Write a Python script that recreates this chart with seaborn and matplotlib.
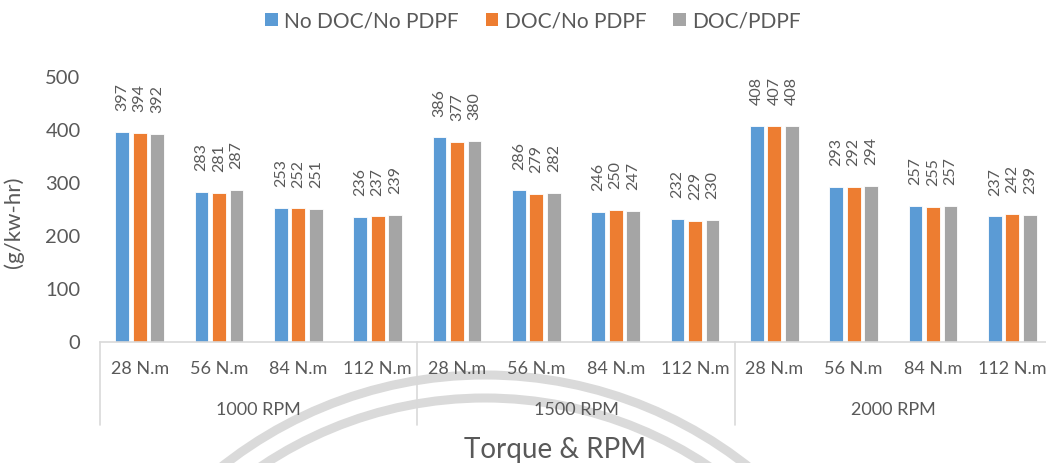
import numpy as np
import pandas as pd
import matplotlib
matplotlib.use('Agg')
import matplotlib.pyplot as plt
from matplotlib.patches import Patch, Arc
import seaborn as sns

# data
rpm_groups = ['1000 RPM', '1500 RPM', '2000 RPM']
torques = ['28 N.m', '56 N.m', '84 N.m', '112 N.m']
series = ['No DOC/No PDPF', 'DOC/No PDPF', 'DOC/PDPF']
no_doc_no_pdpf = [397, 283, 253, 236, 386, 286, 246, 232, 408, 293, 257, 237]
doc_no_pdpf = [394, 281, 252, 237, 377, 279, 250, 229, 407, 292, 255, 242]
doc_pdpf = [392, 287, 251, 239, 380, 282, 247, 230, 408, 294, 257, 239]
colors = ['#5B9BD5', '#ED7D31', '#A5A5A5']

sns.set_theme(style='white')
plt.rcParams['font.family'] = ['Lato', 'DejaVu Sans']
txt = '#595959'

cats = [f'{r}|{t}' for r in rpm_groups for t in torques]
df = pd.DataFrame({
    'cat': cats * 3,
    'series': np.repeat(series, len(cats)),
    'val': no_doc_no_pdpf + doc_no_pdpf + doc_pdpf,
})

fig = plt.figure(figsize=(10.46, 4.63), dpi=100)

# faint watermark from the scanned page
bg = fig.add_axes([0, 0, 1, 1], zorder=-1)
bg.set_xlim(0, 1046)
bg.set_ylim(463, 0)
bg.axis('off')
for r in (424, 401):
    bg.add_patch(Arc((485, 799), 2 * r, 2 * r, theta1=180, theta2=360,
                     color='#dadada', lw=6.5))

W, H = 1046, 463
ax = fig.add_axes([100 / W, (H - 342) / H, 952 / W, 265 / H], zorder=1)
ax.set_facecolor('none')

sns.barplot(data=df, x='cat', y='val', hue='series', order=cats,
            hue_order=series, palette=colors, saturation=1, width=0.666,
            gap=0.22, edgecolor='white', linewidth=0.6, legend=False, ax=ax)

for cont in ax.containers:
    ax.bar_label(cont, rotation=90, padding=15, fontsize=11.5, color=txt)

ax.set_ylim(0, 500)
ax.set_xlim(-0.5, 11.5)
ax.set_yticks(range(0, 501, 100))
ax.set_xticks(range(len(cats)))
ax.set_xticklabels(torques * 3)
ax.tick_params(axis='x', length=0, pad=14, labelsize=13, labelcolor=txt)
ax.tick_params(axis='y', length=0, pad=14, labelsize=14.5, labelcolor=txt)
ax.set_xlabel('')
ax.set_ylabel('(g/kw-hr)', fontsize=16, color=txt)
ax.yaxis.set_label_coords(-0.08, 0.45)

for s in ['top', 'right', 'left']:
    ax.spines[s].set_visible(False)
ax.spines['bottom'].set_color('#d9d9d9')
ax.spines['bottom'].set_linewidth(1.2)

# group separators and group labels
trans = ax.get_xaxis_transform()
for i in range(len(rpm_groups) + 1):
    xb = i * len(torques) - 0.5
    ax.plot([xb, xb], [0, -0.315], transform=trans, color='#d9d9d9',
            lw=1.2, clip_on=False)
for i, g in enumerate(rpm_groups):
    ax.text(i * len(torques) + 1.5, -0.257, g, transform=trans, ha='center',
            va='center', fontsize=13, color=txt)

fig.text(555 / W, 1 - 450 / H, 'Torque & RPM', ha='center', va='center',
         fontsize=20, color=txt)

handles = [Patch(facecolor=c, edgecolor='none') for c in colors]
fig.legend(handles, series, loc='center', bbox_to_anchor=(533 / W, 1 - 21 / H),
           ncol=3, frameon=False, fontsize=15, handlelength=0.6,
           handleheight=0.6, handletextpad=0.3, columnspacing=1.3,
           labelcolor=txt)

fig.savefig('out.png', dpi=100)
